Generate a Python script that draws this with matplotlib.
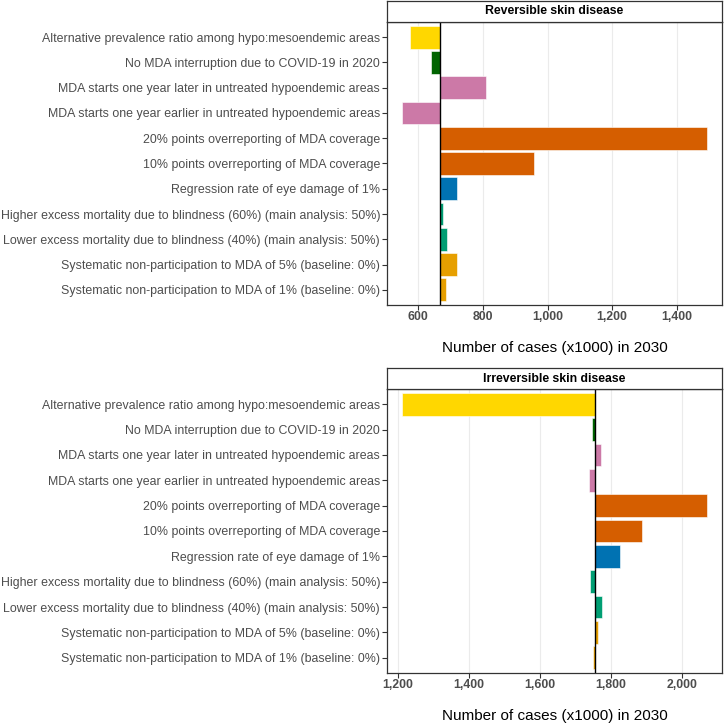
import matplotlib
matplotlib.use("Agg")
import matplotlib.pyplot as plt
from matplotlib.ticker import FuncFormatter

plt.rcParams['font.family'] = ['Liberation Sans', 'DejaVu Sans']

scenarios = [
    "Alternative prevalence ratio among hypo:mesoendemic areas",
    "No MDA interruption due to COVID-19 in 2020",
    "MDA starts one year later in untreated hypoendemic areas",
    "MDA starts one year earlier in untreated hypoendemic areas",
    "20% points overreporting of MDA coverage",
    "10% points overreporting of MDA coverage",
    "Regression rate of eye damage of 1%",
    "Higher excess mortality due to blindness (60%) (main analysis: 50%)",
    "Lower excess mortality due to blindness (40%) (main analysis: 50%)",
    "Systematic non-participation to MDA of 5% (baseline: 0%)",
    "Systematic non-participation to MDA of 1% (baseline: 0%)",
]
colors = ["#FFD700", "#006400", "#CC79A7", "#CC79A7", "#D55E00", "#D55E00",
          "#0072B2", "#009E73", "#009E73", "#E69F00", "#E69F00"]

rev_baseline = 666
rev_values = [575, 640, 808, 550, 1493, 958, 720, 677, 690, 720, 684]
rev_ticks = [600, 800, 1000, 1200, 1400]

irr_baseline = 1756
irr_values = [1212, 1746, 1773, 1740, 2071, 1887, 1825, 1741, 1776, 1765, 1751]
irr_ticks = [1200, 1400, 1600, 1800, 2000]

panels = [
    ("Reversible skin disease", rev_baseline, rev_values, rev_ticks),
    ("Irreversible skin disease", irr_baseline, irr_values, irr_ticks),
]

fig = plt.figure(figsize=(7.24, 7.25), dpi=100)
W, H = 724, 725
left_px, right_px = 387, 722
layout = [(22, 305), (389, 673)]
strip_h = 21

edge_col = "#333333"
for (title, base, vals, ticks), (top_px, bot_px) in zip(panels, layout):
    ax = fig.add_axes([left_px / W, 1 - bot_px / H, (right_px - left_px) / W, (bot_px - top_px) / H])
    n = len(scenarios)
    ypos = list(range(n, 0, -1))
    widths = [v - base for v in vals]
    ax.barh(ypos, widths, left=base, height=0.9, color=colors,
            edgecolor="white", linewidth=0.4, zorder=2)
    ax.axvline(base, color="black", linewidth=1.0, zorder=3)
    lo = min(vals + [base]); hi = max(vals + [base])
    pad = 0.05 * (hi - lo)
    ax.set_xlim(lo - pad, hi + pad)
    ax.set_ylim(0.4, n + 0.6)
    ax.set_yticks(ypos)
    ax.set_yticklabels(scenarios, fontsize=8.9, color="#4D4D4D")
    ax.set_xticks(ticks)
    ax.xaxis.set_major_formatter(FuncFormatter(lambda x, p: f"{int(x):,}"))
    for lab in ax.get_xticklabels():
        lab.set_fontweight("bold")
        lab.set_fontsize(8.8)
        lab.set_color("#4D4D4D")
    ax.tick_params(axis="y", length=3.5, width=0.8, color="#333333", pad=1.5)
    ax.tick_params(axis="x", length=3.5, width=0.8, color="#333333", pad=1.0)
    ax.grid(axis="x", color="#EBEBEB", linewidth=0.8, zorder=0)
    ax.set_axisbelow(True)
    for s in ax.spines.values():
        s.set_color(edge_col)
        s.set_linewidth(0.9)
    ax.set_xlabel("Number of cases (x1000) in 2030", fontsize=11, color="black", labelpad=13)
    # strip
    sax = fig.add_axes([left_px / W, 1 - top_px / H, (right_px - left_px) / W, strip_h / H])
    sax.set_xticks([]); sax.set_yticks([])
    sax.set_facecolor("white")
    for s in sax.spines.values():
        s.set_color(edge_col)
        s.set_linewidth(0.9)
    sax.text(0.5, 0.5, title, ha="center", va="center", fontsize=8.8,
             fontweight="bold", color="black", transform=sax.transAxes)

fig.savefig("out.png", dpi=100, facecolor="white")
